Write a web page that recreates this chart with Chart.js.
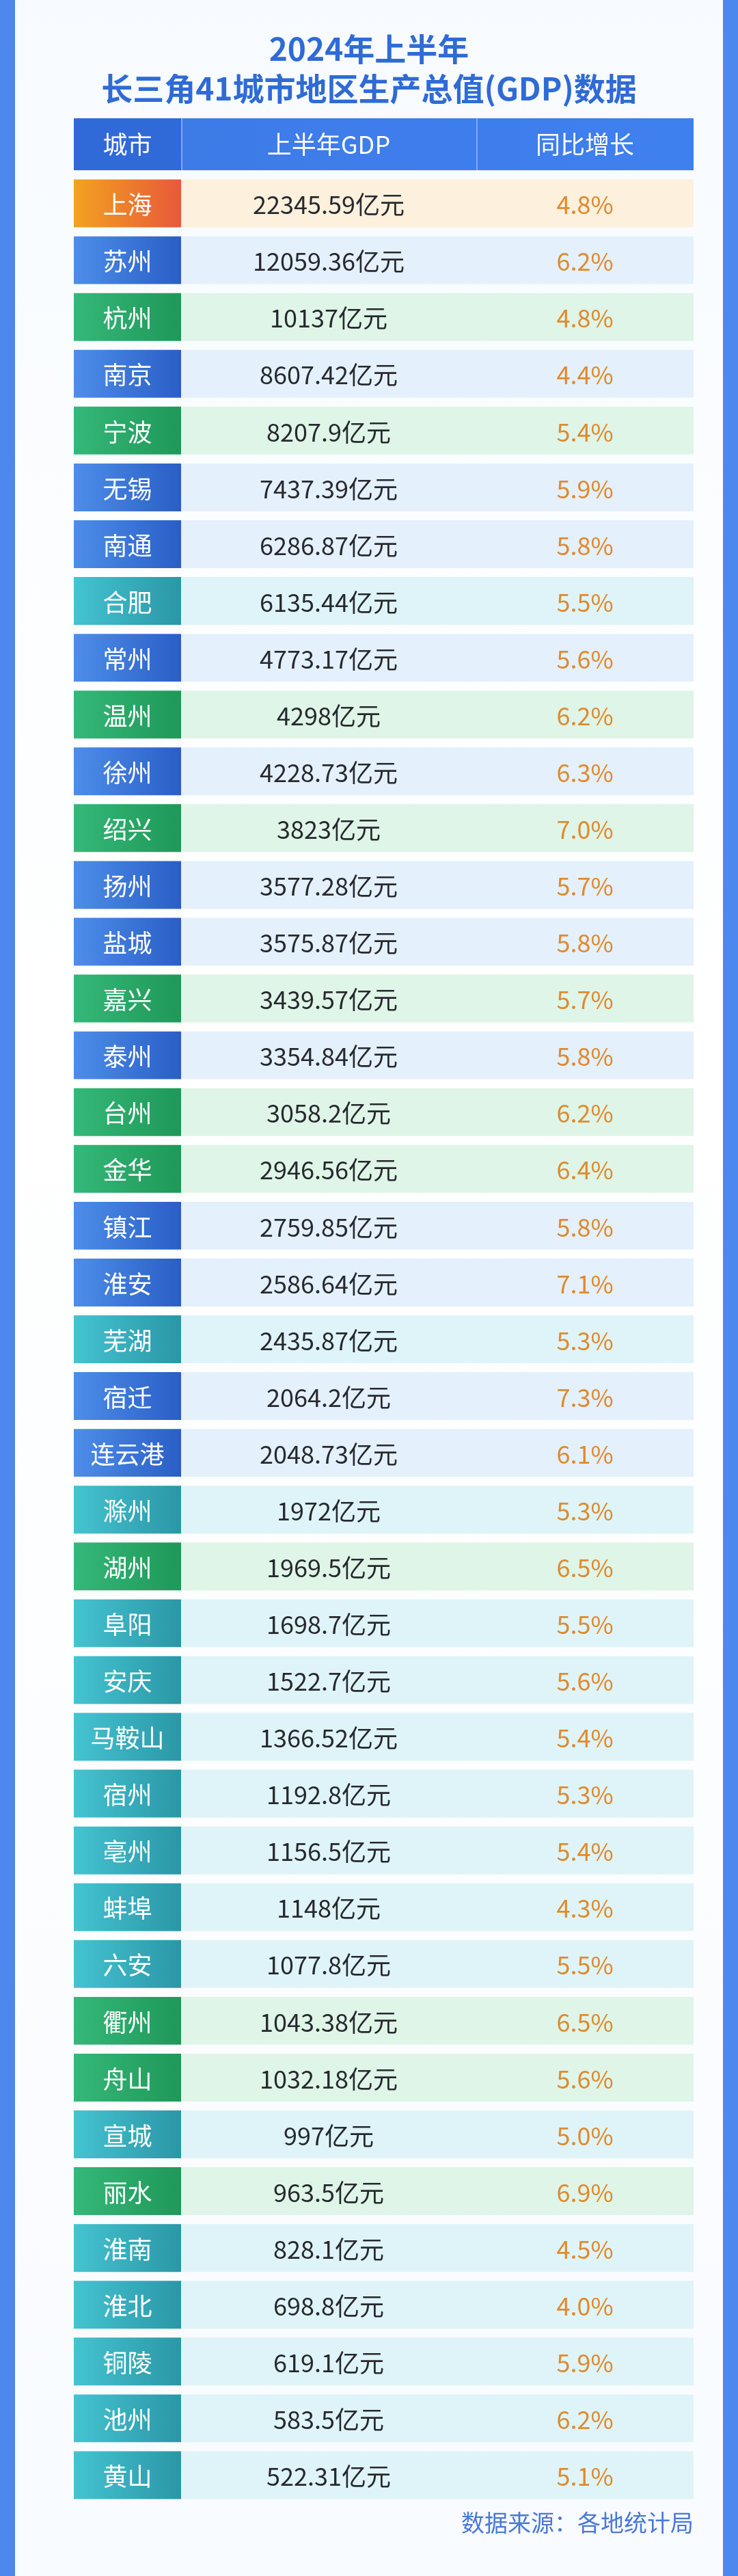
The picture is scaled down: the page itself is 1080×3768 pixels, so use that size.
<!DOCTYPE html>
<html><head><meta charset="utf-8">
<script src="https://cdn.jsdelivr.net/npm/chart.js@4.4.1/dist/chart.umd.min.js"></script>
<style>
html,body{margin:0;padding:0;background:#4d88ef;}
#card{position:absolute;left:22px;top:0;width:1036px;height:3768px;background:linear-gradient(#f7fbff,#ffffff 40%,#f8fbff);}
canvas{position:absolute;left:0;top:0;}
</style></head><body>
<div id="card"></div>
<canvas id="c" width="1080" height="3768"></canvas>
<script>
const titleLines = ['2024年上半年','长三角41城市地区生产总值(GDP)数据'];
const headers = ['城市','上半年GDP','同比增长'];
const cities = ['上海','苏州','杭州','南京','宁波','无锡','南通','合肥','常州','温州','徐州','绍兴','扬州','盐城','嘉兴','泰州','台州','金华','镇江','淮安','芜湖','宿迁','连云港','滁州','湖州','阜阳','安庆','马鞍山','宿州','亳州','蚌埠','六安','衢州','舟山','宣城','丽水','淮南','淮北','铜陵','池州','黄山'];
const gdp = ['22345.59','12059.36','10137','8607.42','8207.9','7437.39','6286.87','6135.44','4773.17','4298','4228.73','3823','3577.28','3575.87','3439.57','3354.84','3058.2','2946.56','2759.85','2586.64','2435.87','2064.2','2048.73','1972','1969.5','1698.7','1522.7','1366.52','1192.8','1156.5','1148','1077.8','1043.38','1032.18','997','963.5','828.1','698.8','619.1','583.5','522.31'];
const growth = [4.8,6.2,4.8,4.4,5.4,5.9,5.8,5.5,5.6,6.2,6.3,7.0,5.7,5.8,5.7,5.8,6.2,6.4,5.8,7.1,5.3,7.3,6.1,5.3,6.5,5.5,5.6,5.4,5.3,5.4,4.3,5.5,6.5,5.6,5.0,6.9,4.5,4.0,5.9,6.2,5.1];
const region = ['sh','js','zj','js','zj','js','js','ah','js','zj','js','zj','js','js','zj','js','zj','zj','js','js','ah','js','js','ah','zj','ah','ah','ah','ah','ah','ah','ah','zj','zj','ah','zj','ah','ah','ah','ah','ah'];
const unit = '亿元';
const source = '数据来源：各地统计局';

const W = [157,432,318];
const cityGrad = {sh:['#f2a31f','#e8583a'],js:['#4d8ee9','#2a5ec6'],zj:['#34b879','#1f9858'],ah:['#45c3d1','#2a97a6']};
const cellBg = {sh:'#fdf0dc',js:'#e4f0fc',zj:'#dff5e7',ah:'#dff4f8'};
const FONT = '"Noto Sans CJK SC","Noto Sans",sans-serif';

function cityColor(ctx){
  const ch = ctx.chart, a = ch.chartArea; if(!a) return '#3a7be0';
  const r = region[ctx.dataIndex];
  const g = ch.ctx.createLinearGradient(a.left,0,a.left+W[0],0);
  g.addColorStop(0,cityGrad[r][0]); g.addColorStop(1,cityGrad[r][1]); return g;
}
const textPlugin = {
  id:'txt',
  afterDraw(ch){
    const c = ch.ctx, a = ch.chartArea;
    c.save();
    c.textAlign='center'; c.textBaseline='middle';
    c.fillStyle='#2f6bd6'; c.font='bold 46px '+FONT;
    c.fillText(titleLines[0],540,72); c.fillText(titleLines[1],540,130);
    const x0=a.left, x1=x0+W[0], x2=x1+W[1], x3=a.right;
    const hTop=173,hBot=249;
    let g=c.createLinearGradient(x0,0,x3,0); g.addColorStop(0,'#3d7ae6'); g.addColorStop(1,'#3f80ef');
    c.fillStyle=g; c.fillRect(x0,hTop,x3-x0,hBot-hTop);
    c.fillStyle='#2f6ad8'; c.fillRect(x0,hTop,W[0],hBot-hTop);
    c.fillStyle='rgba(255,255,255,0.35)'; c.fillRect(x1,hTop,2,hBot-hTop); c.fillRect(x2,hTop,2,hBot-hTop);
    c.fillStyle='#ffffff'; c.font='36px '+FONT;
    const cx=[(x0+x1)/2,(x1+x2)/2,(x2+x3)/2];
    headers.forEach((h,i)=>c.fillText(h,cx[i],(hTop+hBot)/2));
    const meta = ch.getDatasetMeta(0);
    meta.data.forEach((el,i)=>{
      const y=el.y+2;
      c.fillStyle='#ffffff'; c.font='36px '+FONT; c.fillText(cities[i],cx[0],y);
      c.fillStyle='#26292e'; c.fillText(gdp[i]+unit,cx[1],y);
      c.fillStyle='#e08a2e'; c.fillText(growth[i].toFixed(1)+'%',cx[2],y);
    });
    c.textAlign='right'; c.fillStyle='#4a78d8'; c.font='34px '+FONT;
    c.fillText(source,a.right,3690);
    c.restore();
  }
};
new Chart(document.getElementById('c'),{
  type:'bar',
  data:{labels:cities,datasets:[
    {data:cities.map(()=>W[0]),backgroundColor:cityColor},
    {data:cities.map(()=>W[1]),backgroundColor:ctx=>cellBg[region[ctx.dataIndex]]},
    {data:cities.map(()=>W[2]),backgroundColor:ctx=>cellBg[region[ctx.dataIndex]]}
  ]},
  options:{
    indexAxis:'y',responsive:false,animation:false,devicePixelRatio:1,
    layout:{padding:{left:108,right:65,top:256,bottom:106}},
    datasets:{bar:{categoryPercentage:1,barPercentage:0.842,borderWidth:0}},
    scales:{x:{stacked:true,min:0,max:W[0]+W[1]+W[2],display:false},y:{stacked:true,display:false}},
    plugins:{legend:{display:false},tooltip:{enabled:false}}
  },
  plugins:[textPlugin]
});
</script></body></html>
